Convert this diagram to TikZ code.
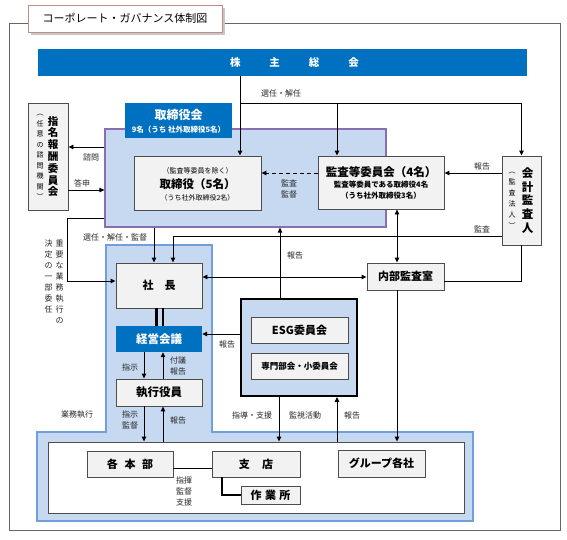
\documentclass[tikz,border=0pt]{standalone}
\usepackage{fontspec}
\setmainfont{Noto Sans CJK JP}
\usetikzlibrary{arrows.meta}
\definecolor{hdrblue}{HTML}{0070C0}
\definecolor{lblue}{HTML}{C6D9F1}
\definecolor{rblue}{HTML}{6FA0DC}
\definecolor{purp}{HTML}{8A6FB0}
\definecolor{boxgray}{HTML}{F2F2F2}
\definecolor{edge}{HTML}{4D4D4D}
\definecolor{txt}{HTML}{262626}
\definecolor{framegray}{HTML}{666666}
\definecolor{titlered}{HTML}{C08A8A}
\newcommand\myfs[2]{\fontsize{#1}{#2}\selectfont}
\begin{document}
\begin{tikzpicture}[x=1pt,y=-1pt,
  gbox/.style={draw=edge, line width=0.9pt, fill=boxgray, inner sep=0pt, text=black, font=\bfseries\myfs{11}{13}},
  arr/.style={-{Triangle[length=5pt,width=4.5pt]}, line width=0.9pt},
  darr/.style={{Triangle[length=5pt,width=4.5pt]}-{Triangle[length=5pt,width=4.5pt]}, line width=0.9pt},
  lbl/.style={font=\myfs{8}{10}, text=txt, inner sep=0pt},
  txtn/.style={inner sep=0pt, text=black},
  vert/.style={inner sep=0pt, align=center}
  ]
\useasboundingbox (0,0) rectangle (567,539);
% outer frame
\draw[draw=framegray, line width=1pt] (9,23) rectangle (560,530);
% title
\fill[black!22] (30.5,7.5) rectangle (224.5,34.5);
\node[draw=titlered, fill=white, line width=0.8pt, minimum width=194, minimum height=27, inner sep=0pt, font=\myfs{11}{13}] (title) at (125,18.5) {コーポレート・ガバナンス体制図};
% banner
\node[fill=hdrblue, minimum width=489, minimum height=27, inner sep=0pt] (banner) at (282.5,62.5) {};
\node[text=white, font=\bfseries\myfs{10.5}{12}, inner sep=0pt] (bannertext) at (294.5,62.5) {株\hspace{29pt}主\hspace{29pt}総\hspace{29pt}会};
% board region
\node[draw=purp, fill=lblue, line width=1.2pt, minimum width=281, minimum height=98, inner sep=0pt] (board) at (245.5,178) {};
\node[fill=hdrblue, minimum width=107, minimum height=35, inner sep=0pt] (boardhdr) at (178.5,120.5) {};
\node[text=white, font=\bfseries\myfs{12}{13}, inner sep=0pt] (bh1) at (178.5,114.5) {取締役会};
\node[text=white, font=\bfseries\myfs{7.5}{9}, inner sep=0pt] (bh2) at (178.5,129.5) {9名（うち 社外取締役5名）};
% directors
\node[gbox, minimum width=127, minimum height=54] (tori) at (197.5,183) {};
\node[txtn, font=\myfs{7}{8}] (tori1) at (197.5,170.5) {（監査等委員を除く）};
\node[txtn, font=\bfseries\myfs{11.5}{13}] (tori2) at (197.5,184.5) {取締役（5名）};
\node[txtn, font=\myfs{7}{8}] (tori3) at (197.5,197.5) {（うち社外取締役2名）};
% audit committee
\node[gbox, minimum width=126, minimum height=53] (kansa) at (381,182.5) {};
\node[txtn, font=\bfseries\myfs{11.5}{13}] (kansa1) at (381,172) {監査等委員会（4名）};
\node[txtn, font=\bfseries\myfs{7.5}{8}] (kansa2) at (381,185) {監査等委員である取締役4名};
\node[txtn, font=\bfseries\myfs{7.5}{8}] (kansa3) at (381,195.5) {（うち社外取締役3名）};
% accounting auditor
\node[gbox, minimum width=39, minimum height=89] (kaikei) at (521.5,200.5) {};
\node[vert, font=\bfseries\myfs{11.5}{13.6}] (kaikei1) at (527.5,200.5) {会\\計\\監\\査\\人};
\node[vert, font=\myfs{7}{11}] (kaikei2) at (512,200) {︵\\監\\査\\法\\人\\︶};
% nomination committee
\node[gbox, minimum width=40, minimum height=107] (shimei) at (48,156.5) {};
\node[vert, font=\bfseries\myfs{10.5}{11.8}] (shimei1) at (53,156.5) {指\\名\\報\\酬\\委\\員\\会};
\node[vert, font=\myfs{7}{10.5}] (shimei2) at (40,157) {︵\\任\\意\\の\\諮\\問\\機\\関\\︶};
% execution region
\filldraw[fill=lblue, draw=rblue, line width=1.2pt] (106,245) -- (212,245) -- (212,432) -- (473,432) -- (473,521) -- (37,521) -- (37,432) -- (106,432) -- cycle;
\node[draw=edge, fill=white, line width=0.9pt, minimum width=416, minimum height=71, inner sep=0pt] (inner) at (256,477.5) {};
% president etc
\node[gbox, minimum width=86, minimum height=45] (shacho) at (159,285.5) {社\hspace{1em}長};
\node[fill=hdrblue, text=white, font=\bfseries\myfs{11.5}{13}, minimum width=86, minimum height=26, inner sep=0pt] (keiei) at (159,339) {経営会議};
\node[gbox, font=\bfseries\myfs{11.5}{13}, minimum width=86, minimum height=27] (shikko) at (159,392.5) {執行役員};
\node[gbox, minimum width=77, minimum height=27] (naibu) at (405.5,276.5) {内部監査室};
% ESG
\node[draw=black, fill=lblue, line width=2pt, minimum width=116, minimum height=97, inner sep=0pt] (esgout) at (299,347.5) {};
\node[gbox, font=\bfseries\myfs{11}{12}, minimum width=97, minimum height=26] (esg) at (299.5,330) {ESG委員会};
\node[gbox, font=\bfseries\myfs{8.5}{9}, minimum width=97, minimum height=26] (senmon) at (299.5,366) {専門部会・小委員会};
% bottom boxes
\node[gbox, minimum width=86, minimum height=26] (honbu) at (130,464) {各\hspace{0.6em}本\hspace{0.6em}部};
\node[gbox, minimum width=88, minimum height=26] (shiten) at (256,464) {支\hspace{1.1em}店};
\node[gbox, minimum width=59, minimum height=18] (sagyo) at (270.5,495) {作\hspace{0.3em}業\hspace{0.3em}所};
\node[gbox, minimum width=87, minimum height=27] (group) at (381.5,463.5) {グループ各社};
% helper coordinates
\coordinate (j1) at (240,103);
\coordinate (j3) at (337,103);
\coordinate (ya) at (0,173);
\coordinate (c173) at (173,236);
\coordinate (x280) at (280,0);
\coordinate (x397) at (397,0);
\coordinate (x154) at (154,0);
\coordinate (ka) at (67,218);
\coordinate (kb) at (67,281);
\coordinate (y147) at (0,147);
\coordinate (y190) at (0,190);
\coordinate (x144) at (144,0);
\coordinate (x157) at (156.5,0);
\coordinate (x163) at (163,0);
\coordinate (y334) at (0,334);
\coordinate (x279) at (279,0);
\coordinate (x337) at (337,0);
\coordinate (y468) at (0,468);
\coordinate (s1) at (222,495);
\coordinate (y281) at (0,281);
\coordinate (y277) at (0,277);
% connectors
\draw[arr] (banner.south -| j1) -- (j1 |- tori.north);
\draw[arr] (j1) -- (kaikei.north |- j1) -- (kaikei.north);
\draw[arr] (j3) -- (j3 |- kansa.north);
\draw[arr, dash pattern=on 4pt off 3pt] (kansa.west |- ya) -- (tori.east |- ya);
\draw[arr] (kaikei.west |- ya) -- (kansa.east |- ya);
\draw[arr] (kaikei.west |- c173) -- (c173) -- (c173 |- shacho.north);
\draw[arr] (x280 |- esgout.north) -- (x280 |- board.south);
\draw[darr] (x397 |- kansa.south) -- (x397 |- naibu.north);
\draw[line width=0.9pt] (kaikei.south) -- (kaikei.south |- y281) -- (naibu.east |- y281);
\draw[darr] (shacho.east |- y277) -- (naibu.west |- y277);
\draw[arr] (x154 |- board.south) -- (x154 |- shacho.north);
\draw[arr] (board.west |- ka) -- (ka) -- (kb) -- (shacho.west |- kb);
\draw[arr] (board.west |- y147) -- (shimei.east |- y147);
\draw[arr] (shimei.east |- y190) -- (board.west |- y190);
\draw[line width=2.2pt] (x157 |- shacho.south) -- (x157 |- keiei.north);
\draw[line width=2.2pt] (x163 |- shacho.south) -- (x163 |- keiei.north);
\draw[arr] (x144 |- keiei.south) -- (x144 |- shikko.north);
\draw[arr] (x163 |- shikko.north) -- (x163 |- keiei.south);
\draw[arr] (esgout.west |- y334) -- (keiei.east |- y334);
\draw[arr] (x144 |- shikko.south) -- (x144 |- inner.north);
\draw[arr] (x163 |- inner.north) -- (x163 |- shikko.south);
\draw[arr] (x279 |- esgout.south) -- (x279 |- inner.north);
\draw[arr] (x337 |- inner.north) -- (x337 |- esgout.south);
\draw[arr] (x397 |- naibu.south) -- (x397 |- inner.north);
\draw[line width=0.9pt] (honbu.east |- y468) -- (shiten.west |- y468);
\draw[line width=1.3pt] (s1 |- shiten.south) -- (s1) -- (sagyo.west |- s1);
% labels
\node[lbl] (l1) at (281,93) {選任・解任};
\node[lbl, align=center, font=\myfs{8}{11}] (l2) at (289,188.5) {監査\\監督};
\node[lbl] (l3) at (482,166) {報告};
\node[lbl] (l4) at (482,229) {監査};
\node[lbl] (l5) at (295,255) {報告};
\node[lbl] (l6) at (115,237) {選任・解任・監督};
\node[lbl] (l7) at (91,157) {諮問};
\node[lbl] (l8) at (82,183) {答申};
\node[vert, font=\myfs{8}{10.9}, text=txt, anchor=north] (l9) at (59.5,240) {重\\要\\な\\業\\務\\執\\行\\の};
\node[vert, font=\myfs{8}{10.9}, text=txt, anchor=north] (l10) at (48.5,240) {決\\定\\の\\一\\部\\委\\任};
\node[lbl] (l11) at (130,367) {指示};
\node[lbl, align=center, font=\myfs{8}{11}] (l12) at (178,366) {付議\\報告};
\node[lbl] (l13) at (227,344) {報告};
\node[lbl] (l14) at (77,415) {業務執行};
\node[lbl, align=center, font=\myfs{8}{11}] (l15) at (130,420) {指示\\監督};
\node[lbl] (l16) at (178,420) {報告};
\node[lbl] (l17) at (252,415) {指導・支援};
\node[lbl] (l18) at (305,415) {監視活動};
\node[lbl] (l19) at (352,415) {報告};
\node[lbl, align=center, font=\myfs{8}{11}] (l20) at (184,491) {指揮\\監督\\支援};
\end{tikzpicture}
\end{document}
